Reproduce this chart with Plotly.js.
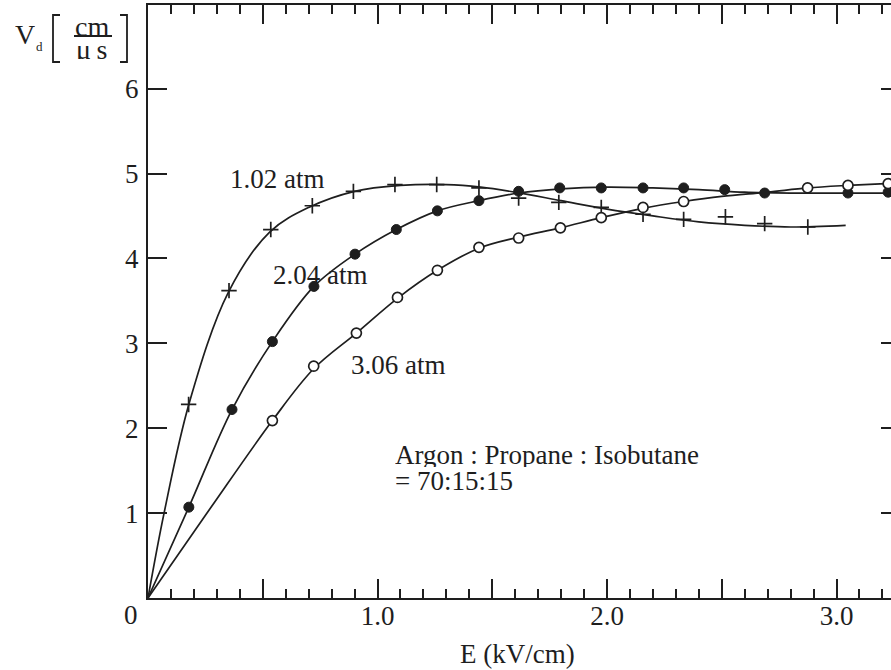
<!DOCTYPE html>
<html>
<head>
<meta charset="utf-8">
<script src="https://cdn.plot.ly/plotly-3.0.1.min.js"></script>
<style>
  html, body { margin: 0; padding: 0; overflow: hidden; background: #fff; }
  #chart { width: 920px; height: 670px; }
</style>
</head>
<body>
<div id="chart"></div>
<script>
// Drift velocity of Argon : Propane : Isobutane = 70:15:15 at three pressures

// measured points, 1.02 atm (+)
const e102 = [0.177, 0.353, 0.535, 0.716, 0.895, 1.076, 1.258, 1.442, 1.615, 1.790, 1.975, 2.157, 2.334, 2.516, 2.687, 2.875];
const v102 = [2.28, 3.62, 4.34, 4.62, 4.79, 4.87, 4.87, 4.83, 4.71, 4.66, 4.60, 4.52, 4.46, 4.49, 4.41, 4.37];

// measured points, 2.04 atm (filled circles)
const e204 = [0.178, 0.366, 0.542, 0.723, 0.902, 1.082, 1.261, 1.442, 1.615, 1.794, 1.975, 2.157, 2.334, 2.513, 2.687, 3.050, 3.225];
const v204 = [1.07, 2.22, 3.02, 3.67, 4.05, 4.34, 4.56, 4.68, 4.79, 4.83, 4.83, 4.83, 4.83, 4.81, 4.77, 4.77, 4.78];

// measured points, 3.06 atm (open circles)
const e306 = [0.542, 0.722, 0.908, 1.087, 1.261, 1.442, 1.615, 1.797, 1.975, 2.157, 2.334, 2.874, 3.050, 3.225];
const v306 = [2.09, 2.73, 3.12, 3.54, 3.86, 4.13, 4.24, 4.36, 4.48, 4.60, 4.67, 4.83, 4.86, 4.88];

// smooth fitted curves through each data set
const fitE102 = [0, 0.07, 0.18, 0.35, 0.53, 0.70, 0.90, 1.10, 1.30, 1.45, 1.60, 1.80, 2.00, 2.20, 2.40, 2.60, 2.80, 3.04];
const fitV102 = [0, 1.00, 2.30, 3.60, 4.31, 4.60, 4.79, 4.86, 4.87, 4.84, 4.78, 4.68, 4.58, 4.50, 4.43, 4.39, 4.37, 4.39];

const fitE204 = [0, 0.178, 0.366, 0.542, 0.723, 0.902, 1.082, 1.261, 1.442, 1.615, 1.80, 2.00, 2.20, 2.40, 2.60, 2.80, 3.00, 3.28];
const fitV204 = [0, 1.07, 2.22, 3.02, 3.67, 4.05, 4.34, 4.56, 4.68, 4.77, 4.82, 4.84, 4.83, 4.81, 4.78, 4.77, 4.77, 4.77];

const fitE306 = [0, 0.27, 0.542, 0.722, 0.908, 1.087, 1.261, 1.442, 1.615, 1.797, 1.975, 2.157, 2.334, 2.50, 2.70, 2.874, 3.05, 3.28];
const fitV306 = [0, 1.05, 2.09, 2.70, 3.12, 3.53, 3.86, 4.12, 4.25, 4.36, 4.48, 4.59, 4.67, 4.73, 4.78, 4.83, 4.86, 4.89];

// axis ticks
const xTickVals = [0.5, 1.0, 1.5, 2.0, 2.5, 3.0];
const xTickText = ['', '1.0', '', '2.0', '', '3.0'];
const yTickVals = [1, 2, 3, 4, 5, 6];
const yTickText = ['1', '2', '3', '4', '5', '6'];

const INK = '#1e1e1e';
const SERIF = 'Liberation Serif, Times New Roman, serif';

// page geometry of the plotting area (pixels)
const W = 920, H = 670;
const M = { l: 148, r: 20, t: 5, b: 72 };
const PW = W - M.l - M.r, PH = H - M.t - M.b;
const px = x => (x - M.l) / PW;          // page x -> paper x
const py = y => (H - M.b - y) / PH;      // page y -> paper y

function fitLine(x, y) {
  return { x, y, mode: 'lines', type: 'scatter', hoverinfo: 'skip',
           line: { color: INK, width: 1.7, shape: 'spline', smoothing: 1 } };
}

const traces = [
  fitLine(fitE102, fitV102),
  fitLine(fitE204, fitV204),
  fitLine(fitE306, fitV306),
  { x: e102, y: v102, mode: 'markers', type: 'scatter', name: '1.02 atm',
    marker: { symbol: 'cross-thin-open', size: 11, color: INK, line: { color: INK, width: 1.7 } } },
  { x: e204, y: v204, mode: 'markers', type: 'scatter', name: '2.04 atm',
    marker: { symbol: 'circle', size: 10, color: INK, line: { color: INK, width: 1 } } },
  { x: e306, y: v306, mode: 'markers', type: 'scatter', name: '3.06 atm',
    marker: { symbol: 'circle', size: 10, color: '#ffffff', line: { color: INK, width: 1.7 } } }
];

function txt(text, x, y, size, xanchor, h) {
  const a = { text, x: px(x), y: py(y), xref: 'paper', yref: 'paper', showarrow: false,
              xanchor: xanchor || 'center', yanchor: 'middle', borderpad: 0,
              font: { family: SERIF, size, color: INK } };
  if (h) a.height = h;
  return a;
}

const annotations = [
  txt('1.02 atm', 277.5, 179, 27),
  txt('2.04 atm', 320, 275, 27),
  txt('3.06 atm', 398, 365, 27),
  txt('Argon : Propane : Isobutane', 394, 455, 27, 'left', 24),
  txt('= 70:15:15', 394, 481, 27, 'left', 24),
  txt('0', 131, 615, 27),
  txt('E (kV/cm)', 517, 654, 27),
  // y-axis label  V_d [cm / μs]
  txt('V', 25, 34, 28, 'center', 22),
  txt('d', 39.5, 46, 13, 'center', 10),
  txt('cm', 92, 26, 28, 'center', 18),
  txt('\u03bc\u2009s', 92, 49, 28, 'center', 20)
];

const shapeLine = { color: INK, width: 2 };
const shapes = [
  // fraction bar
  { type: 'line', xref: 'paper', yref: 'paper', x0: px(74), x1: px(112), y0: py(36), y1: py(36), line: shapeLine },
  // left bracket
  { type: 'path', xref: 'paper', yref: 'paper', line: { color: INK, width: 1.8 },
    path: `M ${px(60)} ${py(15)} L ${px(53)} ${py(15)} L ${px(53)} ${py(62)} L ${px(60)} ${py(62)}` },
  // right bracket
  { type: 'path', xref: 'paper', yref: 'paper', line: { color: INK, width: 1.8 },
    path: `M ${px(120)} ${py(15)} L ${px(127)} ${py(15)} L ${px(127)} ${py(62)} L ${px(120)} ${py(62)}` }
];

const axisCommon = {
  showline: true, linewidth: 2, linecolor: INK, mirror: 'ticks',
  ticks: 'inside', ticklen: 19, tickwidth: 2, tickcolor: INK,
  showgrid: false, zeroline: false, tickmode: 'array',
  tickfont: { family: SERIF, size: 27, color: INK }
};

const layout = {
  width: W, height: H,
  margin: { l: M.l, r: M.r, t: M.t, b: M.b, pad: 0 },
  paper_bgcolor: '#ffffff', plot_bgcolor: '#ffffff',
  showlegend: false,
  font: { family: SERIF, color: INK },
  xaxis: Object.assign({}, axisCommon, {
    range: [0, PW / 229.5], tickvals: xTickVals, ticktext: xTickText,
    ticklabelstandoff: -7,
    minor: { tick0: 0, dtick: 0.1, ticks: 'inside', ticklen: 9, tickwidth: 2, tickcolor: INK, showgrid: false }
  }),
  yaxis: Object.assign({}, axisCommon, {
    range: [0, PH / 84.9], tickvals: yTickVals, ticktext: yTickText,
    ticklabelstandoff: 2
  }),
  annotations, shapes
};

Plotly.newPlot('chart', traces, layout, { staticPlot: true, displayModeBar: false });
</script>
</body>
</html>
